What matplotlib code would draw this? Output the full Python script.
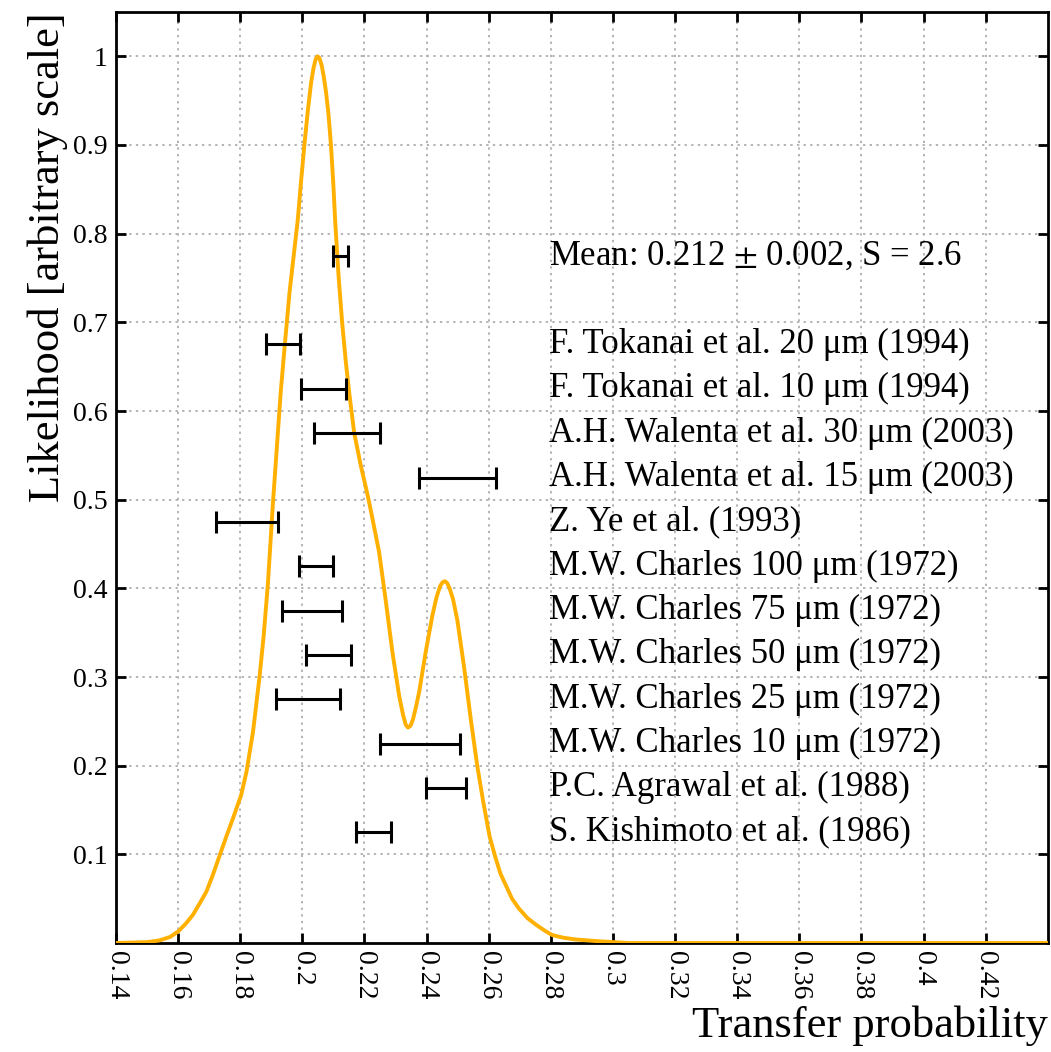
import numpy as np
import matplotlib
matplotlib.use("Agg")
import matplotlib.pyplot as plt

plt.rcParams['font.family'] = ['Liberation Serif', 'DejaVu Serif']
plt.rcParams['mathtext.fontset'] = 'stix'

# likelihood curve
curve_x = [0.140, 0.150, 0.1541, 0.1575, 0.1600, 0.1625, 0.1648, 0.1670, 0.1691, 0.1712,
           0.1734, 0.1755, 0.1777, 0.1803, 0.1820, 0.1841, 0.1862, 0.1875, 0.1889, 0.1905,
           0.1918, 0.1930, 0.1943, 0.1959, 0.1972, 0.1985, 0.1996, 0.2007, 0.2018, 0.2028,
           0.2036, 0.2043, 0.2049, 0.2055, 0.2062, 0.2069, 0.2076, 0.2084, 0.2092, 0.2099,
           0.2106, 0.2117, 0.2128, 0.2140, 0.2151, 0.2167, 0.2189, 0.2205, 0.2215, 0.2226,
           0.2247, 0.2267, 0.2290, 0.2312, 0.2325, 0.2333, 0.2340, 0.2348, 0.2356, 0.2365,
           0.2376, 0.2397, 0.2419, 0.2432, 0.2444, 0.2452, 0.2459, 0.2466, 0.2474, 0.2485,
           0.2499, 0.2520, 0.2542, 0.2563, 0.2582, 0.2603, 0.2622, 0.2638, 0.2654, 0.2675,
           0.2697, 0.2725, 0.2751, 0.2780, 0.2804, 0.2840, 0.2879, 0.2954, 0.3050, 0.4400]
curve_y = [0.000, 0.001, 0.003, 0.007, 0.013, 0.022, 0.032, 0.045, 0.058, 0.077,
           0.099, 0.120, 0.141, 0.167, 0.193, 0.238, 0.300, 0.345, 0.405, 0.495,
           0.560, 0.620, 0.673, 0.735, 0.775, 0.815, 0.860, 0.902, 0.940, 0.970,
           0.987, 0.997, 1.000, 0.998, 0.990, 0.977, 0.960, 0.935, 0.900, 0.860,
           0.812, 0.750, 0.700, 0.655, 0.620, 0.575, 0.537, 0.513, 0.497, 0.478,
           0.441, 0.390, 0.328, 0.278, 0.256, 0.246, 0.243, 0.245, 0.252, 0.265,
           0.283, 0.328, 0.370, 0.390, 0.403, 0.407, 0.408, 0.406, 0.400, 0.388,
           0.364, 0.313, 0.253, 0.200, 0.160, 0.120, 0.096, 0.078, 0.066, 0.050,
           0.039, 0.028, 0.021, 0.014, 0.009, 0.006, 0.004, 0.002, 0.000, 0.000]

# measurements: left and right ends of each error bar, and row height
labels = [
    "Mean: 0.212 $\\pm$ 0.002, S = 2.6",
    "F. Tokanai et al. 20 \u03bcm (1994)",
    "F. Tokanai et al. 10 \u03bcm (1994)",
    "A.H. Walenta et al. 30 \u03bcm (2003)",
    "A.H. Walenta et al. 15 \u03bcm (2003)",
    "Z. Ye et al. (1993)",
    "M.W. Charles 100 \u03bcm (1972)",
    "M.W. Charles 75 \u03bcm (1972)",
    "M.W. Charles 50 \u03bcm (1972)",
    "M.W. Charles 25 \u03bcm (1972)",
    "M.W. Charles 10 \u03bcm (1972)",
    "P.C. Agrawal et al. (1988)",
    "S. Kishimoto et al. (1986)",
]
lo = [0.2098, 0.1884, 0.1995, 0.2037, 0.2377, 0.1721, 0.1989, 0.1935, 0.2013, 0.1914, 0.2249, 0.2399, 0.2174]
hi = [0.2146, 0.1991, 0.2140, 0.2249, 0.2624, 0.1921, 0.2099, 0.2129, 0.2155, 0.2121, 0.2508, 0.2527, 0.2286]
rows = [0.775, 0.675, 0.625, 0.575, 0.525, 0.475, 0.425, 0.375, 0.325, 0.275, 0.225, 0.175, 0.125]

x_ticks = [0.14, 0.16, 0.18, 0.2, 0.22, 0.24, 0.26, 0.28, 0.3, 0.32, 0.34, 0.36, 0.38, 0.4, 0.42]
y_ticks = [0.1, 0.2, 0.3, 0.4, 0.5, 0.6, 0.7, 0.8, 0.9, 1.0]

fig = plt.figure(figsize=(10.51, 10.52), dpi=100)
ax = fig.add_axes([0.1104, 0.1036, 0.8865, 0.885])

ax.plot(curve_x, curve_y, color='#ffb000', lw=2.8, zorder=3)

lo = np.array(lo)
hi = np.array(hi)
ax.errorbar((lo + hi) / 2, rows, xerr=(hi - lo) / 2, fmt='none', ecolor='black',
            elinewidth=2.2, capsize=8, capthick=2.2, zorder=4)

for lab, yv in zip(labels, rows):
    ax.text(0.2795, yv, lab, fontsize=25, va='center', ha='left', zorder=5)

ax.set_xlim(0.14, 0.44)
ax.set_ylim(0, 1.05)
ax.set_xticks(x_ticks)
ax.set_xticklabels([f"{t:g}" for t in x_ticks], rotation=270)
ax.set_yticks(y_ticks)
ax.set_yticklabels([f"{t:g}" for t in y_ticks])
ax.tick_params(direction='in', length=7, width=2, labelsize=20, top=True, right=True, pad=6)
ax.grid(True, color='#b4b4b4', linestyle=(0, (1.2, 2.2)), lw=1.4)
for s in ax.spines.values():
    s.set_linewidth(2)

ax.set_xlabel("Transfer probability", fontsize=32, loc='right')
ax.set_ylabel("Likelihood [arbitrary scale]", fontsize=32, loc='top')

fig.savefig("out.png", dpi=100)
